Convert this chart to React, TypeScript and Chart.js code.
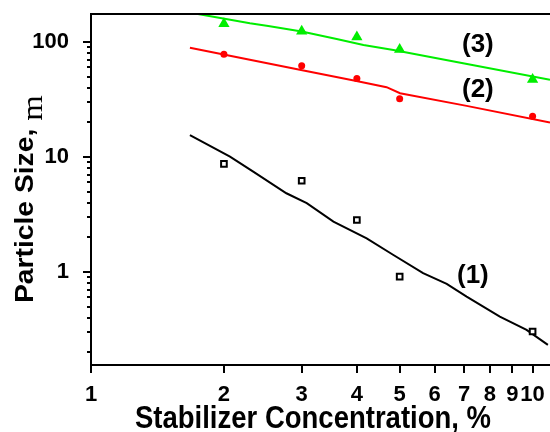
import React, { useEffect, useRef } from 'react';
import { Chart, registerables } from 'chart.js';

Chart.register(...registerables);

// ---- data ----
const concentration = [2, 3, 4, 5, 10];
const sizeSeries1 = [8.7, 6.2, 2.83, 0.91, 0.303];
const sizeSeries2 = [78.2, 62.2, 48, 32.1, 22.6];
const sizeSeries3 = [143.7, 123.7, 110.5, 86.1, 47.1];

const fit1X = [1.675, 2.064, 2.33, 2.77, 3.08, 3.54, 4.21, 4.83, 5.65, 6.39, 7.09, 8.43, 9.69, 10.83];
const fit1Y = [15.5, 10.07, 7.45, 4.83, 3.96, 2.74, 1.96, 1.41, 0.975, 0.787, 0.61, 0.409, 0.313, 0.232];
const fit2X = [1.675, 2.97, 3.99, 4.67, 5.01, 7.09, 10.95];
const fit2Y = [89.2, 57.2, 45.8, 40.4, 35.8, 27.8, 19.9];
const fit3X = [1.675, 2.29, 2.52, 3.0, 3.6, 4.14, 4.84, 6.96, 10.95];
const fit3Y = [180, 145.5, 137.7, 123, 106, 94.2, 85.2, 65.3, 46.8];

const xTickLabels = [1, 2, 3, 4, 5, 6, 7, 8, 9, 10];
const yTickLabels = [1, 10, 100];
const yTickDecades = [0.1, 1, 10, 100];
const curveLabels = ['(1)', '(2)', '(3)'];
const xTitle = 'Stabilizer Concentration, %';
const yTitleMain = 'Particle Size, ';
const yTitleUnit = 'm';

const X_MIN = 1;
const X_MAX = 10.95;
const Y_MIN = 0.155;
const Y_MAX = 175;

const SANS = '"Liberation Sans", Arial, sans-serif';
const SERIF = '"Liberation Serif", "Times New Roman", serif';

const toPts = (xs: number[], ys: number[]) => xs.map((x, i) => ({ x, y: ys[i] }));

const zeroPad = (s: any) => {
  s.paddingLeft = 0;
  s.paddingRight = 0;
  s.paddingTop = 0;
  s.paddingBottom = 0;
};

const decorPlugin = {
  id: 'decor',
  afterDraw(chart: any) {
    const { ctx, chartArea: a, scales } = chart;
    const xs = scales.x;
    const ys = scales.y;
    ctx.save();
    ctx.strokeStyle = '#000';
    ctx.lineWidth = 2;
    ctx.beginPath();
    ctx.moveTo(a.left, a.top);
    ctx.lineTo(a.right, a.top);
    ctx.moveTo(a.left, a.top - 1);
    ctx.lineTo(a.left, a.bottom + 1);
    ctx.moveTo(a.left - 1, a.bottom);
    ctx.lineTo(a.right, a.bottom);
    // y ticks
    for (const d of yTickDecades) {
      for (let m = 1; m <= 9; m++) {
        const v = m * d;
        if (v < Y_MIN || v > Y_MAX) continue;
        const py = Math.round(ys.getPixelForValue(v));
        const len = m === 1 ? 8 : 4;
        ctx.moveTo(a.left - len, py);
        ctx.lineTo(a.left, py);
      }
    }
    // x ticks
    for (const v of xTickLabels) {
      const px = Math.round(xs.getPixelForValue(v));
      ctx.moveTo(px, a.bottom);
      ctx.lineTo(px, a.bottom + 8);
    }
    ctx.stroke();

    ctx.fillStyle = '#000';
    // x title (slightly stretched vertically like the reference)
    ctx.save();
    ctx.translate(135, 428);
    ctx.scale(1, 1.13);
    ctx.font = `bold 27.5px ${SANS}`;
    ctx.textAlign = 'left';
    ctx.textBaseline = 'alphabetic';
    ctx.fillText(xTitle, 0, 0);
    ctx.restore();

    // y title
    ctx.save();
    ctx.translate(33, 303);
    ctx.rotate(-Math.PI / 2);
    ctx.scale(1.13, 1);
    ctx.textAlign = 'left';
    ctx.textBaseline = 'alphabetic';
    ctx.font = `bold 25px ${SANS}`;
    ctx.fillText(yTitleMain, 0, 0);
    const w = ctx.measureText(yTitleMain).width;
    ctx.font = `29px ${SERIF}`;
    ctx.fillText(yTitleUnit, w, 9);
    ctx.restore();

    // curve labels
    ctx.font = `bold 26px ${SANS}`;
    ctx.textAlign = 'left';
    ctx.textBaseline = 'alphabetic';
    ctx.fillText(curveLabels[0], 457, 283);
    ctx.fillText(curveLabels[1], 462, 96.5);
    ctx.fillText(curveLabels[2], 462, 51.5);
    ctx.restore();
  },
};

export default function App() {
  const ref = useRef<HTMLCanvasElement | null>(null);

  useEffect(() => {
    document.body.style.margin = '0';
    const canvas = ref.current;
    if (!canvas) return;
    const chart = new Chart(canvas, {
      type: 'scatter',
      data: {
        datasets: [
          {
            data: toPts(concentration, sizeSeries1),
            pointStyle: 'rect',
            pointRadius: 4,
            pointBorderWidth: 2,
            pointBorderColor: '#000',
            pointBackgroundColor: '#fff',
            showLine: false,
          },
          {
            data: toPts(concentration, sizeSeries2),
            pointStyle: 'circle',
            pointRadius: 3.5,
            pointBorderWidth: 0,
            pointBackgroundColor: '#ff0000',
            pointBorderColor: '#ff0000',
            showLine: false,
          },
          {
            data: toPts(concentration, sizeSeries3),
            pointStyle: 'triangle',
            pointRadius: 6.5,
            pointBorderWidth: 0,
            pointBackgroundColor: '#00ee00',
            pointBorderColor: '#00ee00',
            showLine: false,
          },
          {
            data: toPts(fit1X, fit1Y),
            showLine: true,
            borderColor: '#000',
            borderWidth: 2,
            pointRadius: 0,
            tension: 0,
          },
          {
            data: toPts(fit2X, fit2Y),
            showLine: true,
            borderColor: '#ff0000',
            borderWidth: 2,
            pointRadius: 0,
            tension: 0,
          },
          {
            data: toPts(fit3X, fit3Y),
            showLine: true,
            borderColor: '#00ee00',
            borderWidth: 2,
            pointRadius: 0,
            tension: 0,
          },
        ],
      },
      options: {
        animation: false,
        responsive: false,
        maintainAspectRatio: false,
        layout: { autoPadding: false, padding: { top: 14, left: 0, right: 0, bottom: 0 } },
        plugins: {
          legend: { display: false },
          tooltip: { enabled: false },
          title: { display: false },
        },
        scales: {
          x: {
            type: 'logarithmic',
            min: X_MIN,
            max: X_MAX,
            grid: { display: false },
            border: { display: false },
            afterFit: (s: any) => {
              s.height = 67;
              zeroPad(s);
            },
            ticks: {
              autoSkip: false,
              maxRotation: 0,
              padding: 9,
              color: '#000',
              font: { family: SANS, size: 22, weight: 'bold' },
              callback: (v: any) => {
                const n = Math.round(Number(v) * 1000) / 1000;
                return xTickLabels.includes(n) ? String(n) : '';
              },
            },
          },
          y: {
            type: 'logarithmic',
            min: Y_MIN,
            max: Y_MAX,
            grid: { display: false },
            border: { display: false },
            afterFit: (s: any) => {
              s.width = 91;
              zeroPad(s);
            },
            ticks: {
              autoSkip: false,
              padding: 14,
              color: '#000',
              font: { family: SANS, size: 22, weight: 'bold' },
              callback: (v: any) => {
                const n = Math.round(Number(v) * 1000) / 1000;
                return yTickLabels.includes(n) ? String(n) : '';
              },
            },
          },
        },
      },
      plugins: [decorPlugin],
    } as any);
    return () => chart.destroy();
  }, []);

  return (
    <div style={{ width: 550, height: 432 }}>
      <canvas ref={ref} width={550} height={432} style={{ display: 'block' }} />
    </div>
  );
}
